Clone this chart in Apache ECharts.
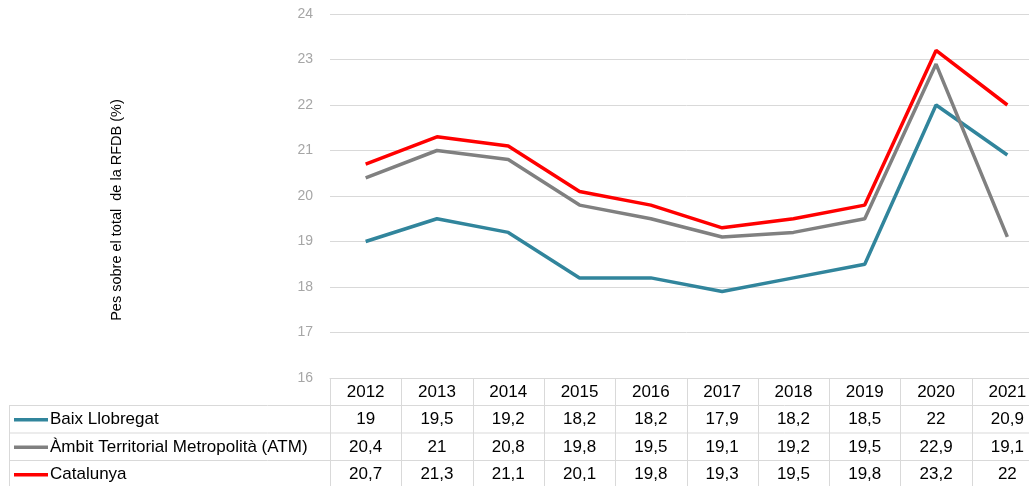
<!DOCTYPE html>
<html>
<head>
<meta charset="utf-8">
<script src="https://cdn.jsdelivr.net/npm/echarts@6/dist/echarts.min.js"></script>
<style>
  html, body { margin: 0; padding: 0; background: #fff; overflow: hidden; }
  /* la taula continua una mica fora de la imatge per la dreta */
  #chart { width: 1043px; height: 486px; }
</style>
</head>
<body>
<div id="chart"></div>
<script>
// dades
const years = ['2012', '2013', '2014', '2015', '2016', '2017', '2018', '2019', '2020', '2021'];
const baixLlobregat = [19, 19.5, 19.2, 18.2, 18.2, 17.9, 18.2, 18.5, 22, 20.9];
const atm = [20.4, 21, 20.8, 19.8, 19.5, 19.1, 19.2, 19.5, 22.9, 19.1];
const catalunya = [20.7, 21.3, 21.1, 20.1, 19.8, 19.3, 19.5, 19.8, 23.2, 22];
const seriesNames = ['Baix Llobregat', 'Àmbit Territorial Metropolità (ATM)', 'Catalunya'];
const seriesColors = ['#31859c', '#808080', '#ff0000'];
const yTicks = [16, 17, 18, 19, 20, 21, 22, 23, 24];

const allSeries = [baixLlobregat, atm, catalunya];
const font = '"Liberation Sans", Arial, sans-serif';
const gridColor = '#d9d9d9';

let chart = echarts.init(document.getElementById('chart'));
chart.setOption({
  animation: false,
  grid: {
    left: 330,
    right: 0,
    top: 14,
    bottom: 108,
  },
  xAxis: {
    type: 'category',
    boundaryGap: true,
    data: years,
    axisLine: { show: true, lineStyle: { color: gridColor } },
    axisTick: { show: false },
    axisLabel: { show: false },
  },
  yAxis: {
    type: 'value',
    min: yTicks[0],
    max: yTicks[yTicks.length - 1],
    interval: 1,
    axisLine: { show: false },
    axisTick: { show: false },
    axisLabel: {
      color: '#a6a6a6',
      fontSize: 14,
      fontFamily: font,
      margin: 17,
    },
    splitLine: { lineStyle: { color: gridColor, width: 1 } },
  },
  series: allSeries.map((data, i) => {
    return {
      name: seriesNames[i],
      type: 'line',
      data: data,
      symbol: 'none',
      lineStyle: { color: seriesColors[i], width: 3.5 },
      z: 2 + i,
    };
  }),
});

// taula de dades sota el gràfic
function buildTable() {
  let x0 = chart.convertToPixel({ xAxisIndex: 0 }, 0);
  let x1 = chart.convertToPixel({ xAxisIndex: 0 }, 1);
  let band = x1 - x0;
  let tableLeft = 9;
  let tableRight = chart.getWidth();
  let colLeft = x0 - band / 2;
  let rowTops = [378, 405, 432.5, 460, 487.5];
  let els = [];
  let line = (xa, ya, xb, yb) => {
    els.push({
      type: 'line',
      shape: { x1: xa, y1: ya, x2: xb, y2: yb },
      style: { stroke: gridColor, lineWidth: 1 },
      silent: true,
    });
  };
  // línies verticals de les columnes
  for (let i = 0; i <= years.length; i++) {
    let x = Math.round(colLeft + i * band) + 0.5;
    line(x, rowTops[0], x, rowTops[4]);
  }
  line(tableLeft + 0.5, rowTops[1], tableLeft + 0.5, rowTops[4]);
  // línies horitzontals
  line(tableLeft, rowTops[1] + 0.5, tableRight, rowTops[1] + 0.5);
  line(tableLeft, rowTops[2] + 0.5, tableRight, rowTops[2] + 0.5);
  line(tableLeft, rowTops[3] + 0.5, tableRight, rowTops[3] + 0.5);

  // capçalera d'anys
  years.forEach((y, i) => {
    els.push({
      type: 'text',
      x: chart.convertToPixel({ xAxisIndex: 0 }, i),
      y: (rowTops[0] + rowTops[1]) / 2 + 1,
      style: { text: y, font: '17px ' + font, fill: '#000', align: 'center', verticalAlign: 'middle' },
      silent: true,
    });
  });
  // files
  allSeries.forEach((data, r) => {
    let cy = (rowTops[r + 1] + rowTops[r + 2]) / 2 + 1;
    els.push({
      type: 'line',
      shape: { x1: 14, y1: cy, x2: 48, y2: cy },
      style: { stroke: seriesColors[r], lineWidth: 3.5 },
      silent: true,
    });
    els.push({
      type: 'text',
      x: 50,
      y: cy,
      style: { text: seriesNames[r], font: '17px ' + font, fill: '#000', align: 'left', verticalAlign: 'middle' },
      silent: true,
    });
    data.forEach((v, i) => {
      els.push({
        type: 'text',
        x: chart.convertToPixel({ xAxisIndex: 0 }, i),
        y: cy,
        style: { text: String(v).replace('.', ','), font: '17px ' + font, fill: '#000', align: 'center', verticalAlign: 'middle' },
        silent: true,
      });
    });
  });
  // títol de l'eix Y
  els.push({
    type: 'text',
    x: 117,
    y: 210,
    rotation: Math.PI / 2,
    style: { text: 'Pes sobre el total  de la RFDB (%)', font: '14.5px ' + font, fill: '#000', align: 'center', verticalAlign: 'middle' },
    silent: true,
  });
  chart.setOption({ graphic: els });
}
buildTable();
</script>
</body>
</html>
